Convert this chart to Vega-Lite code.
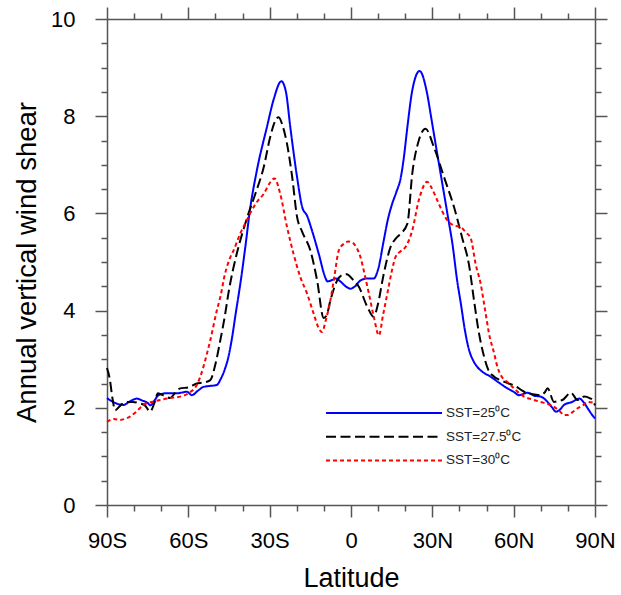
{
"$schema": "https://vega.github.io/schema/vega-lite/v6.json",
"width": 488, "height": 486,
"autosize": {"type": "none"},
"padding": {"left": 107, "top": 19, "right": 26, "bottom": 90},
"config": {"view": {"stroke": null}, "font": "Liberation Sans",
  "axis": {"grid": false, "domainColor": "#555", "tickColor": "#555", "domainWidth": 1.5, "tickWidth": 1.5, "labelColor": "#000", "titleColor": "#000", "titleFontWeight": "normal", "labelFont": "Liberation Sans", "titleFont": "Liberation Sans"}},
"data": {"values": [
{"lat":-90,"v":2.2,"s":"25"},{"lat":-87,"v":2.1,"s":"25"},{"lat":-84,"v":2.06,"s":"25"},{"lat":-81,"v":2.15,"s":"25"},{"lat":-79,"v":2.19,"s":"25"},{"lat":-77,"v":2.15,"s":"25"},{"lat":-75,"v":2.1,"s":"25"},{"lat":-74,"v":2.05,"s":"25"},{"lat":-72.5,"v":2.15,"s":"25"},{"lat":-71,"v":2.26,"s":"25"},{"lat":-68,"v":2.3,"s":"25"},{"lat":-64,"v":2.3,"s":"25"},{"lat":-60.5,"v":2.33,"s":"25"},{"lat":-58.7,"v":2.26,"s":"25"},{"lat":-56.5,"v":2.35,"s":"25"},{"lat":-54.4,"v":2.43,"s":"25"},{"lat":-52,"v":2.45,"s":"25"},{"lat":-49.5,"v":2.47,"s":"25"},{"lat":-48,"v":2.6,"s":"25"},{"lat":-46.5,"v":2.8,"s":"25"},{"lat":-45.2,"v":3.05,"s":"25"},{"lat":-44,"v":3.4,"s":"25"},{"lat":-42.5,"v":3.95,"s":"25"},{"lat":-40.8,"v":4.56,"s":"25"},{"lat":-39,"v":5.3,"s":"25"},{"lat":-37.2,"v":6.1,"s":"25"},{"lat":-34.7,"v":6.89,"s":"25"},{"lat":-31,"v":7.78,"s":"25"},{"lat":-28.5,"v":8.35,"s":"25"},{"lat":-25.7,"v":8.72,"s":"25"},{"lat":-24,"v":8.5,"s":"25"},{"lat":-22.4,"v":7.78,"s":"25"},{"lat":-19.9,"v":6.75,"s":"25"},{"lat":-18,"v":6.13,"s":"25"},{"lat":-16.2,"v":5.95,"s":"25"},{"lat":-14.4,"v":5.65,"s":"25"},{"lat":-11.9,"v":5.17,"s":"25"},{"lat":-9.4,"v":4.67,"s":"25"},{"lat":-8.7,"v":4.6,"s":"25"},{"lat":-7,"v":4.63,"s":"25"},{"lat":-5.7,"v":4.66,"s":"25"},{"lat":-3.9,"v":4.6,"s":"25"},{"lat":-2,"v":4.5,"s":"25"},{"lat":-0.2,"v":4.45,"s":"25"},{"lat":1.5,"v":4.5,"s":"25"},{"lat":3.5,"v":4.62,"s":"25"},{"lat":6,"v":4.66,"s":"25"},{"lat":8.4,"v":4.66,"s":"25"},{"lat":10,"v":4.85,"s":"25"},{"lat":12.1,"v":5.45,"s":"25"},{"lat":13.5,"v":5.85,"s":"25"},{"lat":15.2,"v":6.2,"s":"25"},{"lat":16.8,"v":6.45,"s":"25"},{"lat":18.3,"v":6.72,"s":"25"},{"lat":19.5,"v":7.15,"s":"25"},{"lat":20.8,"v":7.78,"s":"25"},{"lat":22.6,"v":8.53,"s":"25"},{"lat":25.3,"v":8.93,"s":"25"},{"lat":28.1,"v":8.46,"s":"25"},{"lat":29.5,"v":8.0,"s":"25"},{"lat":31.2,"v":7.43,"s":"25"},{"lat":34.3,"v":6.41,"s":"25"},{"lat":36,"v":5.85,"s":"25"},{"lat":37.4,"v":5.38,"s":"25"},{"lat":39.2,"v":4.6,"s":"25"},{"lat":40.5,"v":4.15,"s":"25"},{"lat":42,"v":3.6,"s":"25"},{"lat":43.5,"v":3.2,"s":"25"},{"lat":45,"v":2.98,"s":"25"},{"lat":46.6,"v":2.84,"s":"25"},{"lat":48.5,"v":2.74,"s":"25"},{"lat":51.5,"v":2.64,"s":"25"},{"lat":54.5,"v":2.52,"s":"25"},{"lat":57.7,"v":2.4,"s":"25"},{"lat":60,"v":2.33,"s":"25"},{"lat":62,"v":2.26,"s":"25"},{"lat":65.1,"v":2.31,"s":"25"},{"lat":67.5,"v":2.25,"s":"25"},{"lat":70,"v":2.23,"s":"25"},{"lat":72,"v":2.15,"s":"25"},{"lat":74,"v":2.02,"s":"25"},{"lat":75.6,"v":1.92,"s":"25"},{"lat":77,"v":1.96,"s":"25"},{"lat":78.6,"v":2.06,"s":"25"},{"lat":81.5,"v":2.12,"s":"25"},{"lat":84.2,"v":2.19,"s":"25"},{"lat":86,"v":2.1,"s":"25"},{"lat":87.3,"v":1.99,"s":"25"},{"lat":89,"v":1.85,"s":"25"},{"lat":90,"v":1.78,"s":"25"},
{"lat":-90,"v":2.82,"s":"27.5"},{"lat":-89,"v":2.6,"s":"27.5"},{"lat":-88,"v":2.2,"s":"27.5"},{"lat":-87,"v":1.95,"s":"27.5"},{"lat":-85,"v":2.05,"s":"27.5"},{"lat":-83.3,"v":2.12,"s":"27.5"},{"lat":-80.5,"v":2.12,"s":"27.5"},{"lat":-77.8,"v":2.09,"s":"27.5"},{"lat":-76,"v":2.05,"s":"27.5"},{"lat":-74.1,"v":1.92,"s":"27.5"},{"lat":-72.5,"v":2.1,"s":"27.5"},{"lat":-71.2,"v":2.3,"s":"27.5"},{"lat":-69,"v":2.25,"s":"27.5"},{"lat":-66.7,"v":2.2,"s":"27.5"},{"lat":-65,"v":2.3,"s":"27.5"},{"lat":-63,"v":2.4,"s":"27.5"},{"lat":-60,"v":2.42,"s":"27.5"},{"lat":-56.9,"v":2.5,"s":"27.5"},{"lat":-54.4,"v":2.52,"s":"27.5"},{"lat":-51.9,"v":2.57,"s":"27.5"},{"lat":-50,"v":2.9,"s":"27.5"},{"lat":-48.2,"v":3.39,"s":"27.5"},{"lat":-46.5,"v":3.9,"s":"27.5"},{"lat":-45.2,"v":4.36,"s":"27.5"},{"lat":-42.1,"v":5.18,"s":"27.5"},{"lat":-39.5,"v":5.7,"s":"27.5"},{"lat":-37.8,"v":6.0,"s":"27.5"},{"lat":-35.3,"v":6.4,"s":"27.5"},{"lat":-32.2,"v":6.95,"s":"27.5"},{"lat":-29.8,"v":7.57,"s":"27.5"},{"lat":-28,"v":7.9,"s":"27.5"},{"lat":-26.7,"v":7.98,"s":"27.5"},{"lat":-25.2,"v":7.8,"s":"27.5"},{"lat":-23.6,"v":7.43,"s":"27.5"},{"lat":-21.7,"v":6.75,"s":"27.5"},{"lat":-19.9,"v":5.93,"s":"27.5"},{"lat":-18,"v":5.62,"s":"27.5"},{"lat":-15,"v":5.24,"s":"27.5"},{"lat":-12.5,"v":4.62,"s":"27.5"},{"lat":-10.1,"v":3.85,"s":"27.5"},{"lat":-9,"v":3.9,"s":"27.5"},{"lat":-7.6,"v":4.21,"s":"27.5"},{"lat":-5.1,"v":4.62,"s":"27.5"},{"lat":-3.3,"v":4.73,"s":"27.5"},{"lat":-1.5,"v":4.75,"s":"27.5"},{"lat":0.5,"v":4.65,"s":"27.5"},{"lat":2.9,"v":4.49,"s":"27.5"},{"lat":6,"v":4.08,"s":"27.5"},{"lat":8.4,"v":3.87,"s":"27.5"},{"lat":9.8,"v":4.1,"s":"27.5"},{"lat":12.1,"v":4.76,"s":"27.5"},{"lat":14.6,"v":5.31,"s":"27.5"},{"lat":16.5,"v":5.48,"s":"27.5"},{"lat":18.3,"v":5.58,"s":"27.5"},{"lat":20.8,"v":5.79,"s":"27.5"},{"lat":22.6,"v":6.82,"s":"27.5"},{"lat":25,"v":7.5,"s":"27.5"},{"lat":27.5,"v":7.74,"s":"27.5"},{"lat":30.6,"v":7.36,"s":"27.5"},{"lat":34.3,"v":6.75,"s":"27.5"},{"lat":38,"v":6.13,"s":"27.5"},{"lat":41,"v":5.5,"s":"27.5"},{"lat":43.5,"v":4.95,"s":"27.5"},{"lat":45.4,"v":4.2,"s":"27.5"},{"lat":47,"v":3.6,"s":"27.5"},{"lat":49.1,"v":3.05,"s":"27.5"},{"lat":50.5,"v":2.8,"s":"27.5"},{"lat":52.8,"v":2.64,"s":"27.5"},{"lat":55,"v":2.57,"s":"27.5"},{"lat":57.7,"v":2.51,"s":"27.5"},{"lat":60.5,"v":2.45,"s":"27.5"},{"lat":63.9,"v":2.33,"s":"27.5"},{"lat":67,"v":2.28,"s":"27.5"},{"lat":70,"v":2.26,"s":"27.5"},{"lat":71.5,"v":2.32,"s":"27.5"},{"lat":72.5,"v":2.4,"s":"27.5"},{"lat":74.9,"v":2.12,"s":"27.5"},{"lat":76.5,"v":2.14,"s":"27.5"},{"lat":78,"v":2.16,"s":"27.5"},{"lat":81.1,"v":2.31,"s":"27.5"},{"lat":83.6,"v":2.16,"s":"27.5"},{"lat":86,"v":2.23,"s":"27.5"},{"lat":88,"v":2.2,"s":"27.5"},{"lat":89.1,"v":2.16,"s":"27.5"},{"lat":90,"v":2.05,"s":"27.5"},
{"lat":-90,"v":1.71,"s":"30"},{"lat":-87.5,"v":1.77,"s":"30"},{"lat":-85.2,"v":1.75,"s":"30"},{"lat":-83,"v":1.78,"s":"30"},{"lat":-81.5,"v":1.82,"s":"30"},{"lat":-79,"v":1.93,"s":"30"},{"lat":-76.6,"v":2.06,"s":"30"},{"lat":-73.5,"v":2.12,"s":"30"},{"lat":-70.4,"v":2.16,"s":"30"},{"lat":-67,"v":2.2,"s":"30"},{"lat":-63,"v":2.23,"s":"30"},{"lat":-60,"v":2.3,"s":"30"},{"lat":-56.9,"v":2.47,"s":"30"},{"lat":-55.6,"v":2.64,"s":"30"},{"lat":-53.2,"v":3.1,"s":"30"},{"lat":-51.9,"v":3.39,"s":"30"},{"lat":-49.5,"v":4.0,"s":"30"},{"lat":-48.2,"v":4.28,"s":"30"},{"lat":-46.5,"v":4.75,"s":"30"},{"lat":-44.5,"v":5.1,"s":"30"},{"lat":-43.3,"v":5.24,"s":"30"},{"lat":-40.9,"v":5.58,"s":"30"},{"lat":-38.4,"v":5.86,"s":"30"},{"lat":-37.2,"v":6.0,"s":"30"},{"lat":-34.5,"v":6.25,"s":"30"},{"lat":-32.2,"v":6.4,"s":"30"},{"lat":-30,"v":6.62,"s":"30"},{"lat":-28.2,"v":6.72,"s":"30"},{"lat":-26.1,"v":6.4,"s":"30"},{"lat":-23.6,"v":5.72,"s":"30"},{"lat":-21.2,"v":5.17,"s":"30"},{"lat":-18.7,"v":4.69,"s":"30"},{"lat":-16.2,"v":4.35,"s":"30"},{"lat":-13.8,"v":3.94,"s":"30"},{"lat":-12,"v":3.65,"s":"30"},{"lat":-10.7,"v":3.56,"s":"30"},{"lat":-9.3,"v":3.8,"s":"30"},{"lat":-7.6,"v":4.21,"s":"30"},{"lat":-6,"v":4.75,"s":"30"},{"lat":-4.5,"v":5.24,"s":"30"},{"lat":-2.5,"v":5.38,"s":"30"},{"lat":-1,"v":5.42,"s":"30"},{"lat":0.5,"v":5.4,"s":"30"},{"lat":2,"v":5.3,"s":"30"},{"lat":3.5,"v":5.1,"s":"30"},{"lat":5,"v":4.75,"s":"30"},{"lat":6.6,"v":4.35,"s":"30"},{"lat":8.5,"v":3.85,"s":"30"},{"lat":10.3,"v":3.49,"s":"30"},{"lat":11.8,"v":3.9,"s":"30"},{"lat":13.4,"v":4.35,"s":"30"},{"lat":15,"v":4.8,"s":"30"},{"lat":16.4,"v":5.1,"s":"30"},{"lat":18.5,"v":5.23,"s":"30"},{"lat":20.1,"v":5.31,"s":"30"},{"lat":22.6,"v":5.65,"s":"30"},{"lat":25,"v":6.27,"s":"30"},{"lat":28.1,"v":6.65,"s":"30"},{"lat":29.5,"v":6.55,"s":"30"},{"lat":31.8,"v":6.27,"s":"30"},{"lat":35.5,"v":5.86,"s":"30"},{"lat":38,"v":5.75,"s":"30"},{"lat":40.4,"v":5.72,"s":"30"},{"lat":42.5,"v":5.6,"s":"30"},{"lat":44.1,"v":5.5,"s":"30"},{"lat":46,"v":4.95,"s":"30"},{"lat":47.8,"v":4.56,"s":"30"},{"lat":49.5,"v":4.0,"s":"30"},{"lat":50.9,"v":3.53,"s":"30"},{"lat":52.8,"v":3.12,"s":"30"},{"lat":54,"v":2.84,"s":"30"},{"lat":55.5,"v":2.65,"s":"30"},{"lat":57.7,"v":2.53,"s":"30"},{"lat":60.5,"v":2.38,"s":"30"},{"lat":63.9,"v":2.23,"s":"30"},{"lat":67,"v":2.17,"s":"30"},{"lat":70,"v":2.12,"s":"30"},{"lat":72.5,"v":2.08,"s":"30"},{"lat":74.9,"v":2.02,"s":"30"},{"lat":77,"v":1.93,"s":"30"},{"lat":78.6,"v":1.85,"s":"30"},{"lat":80,"v":1.85,"s":"30"},{"lat":81.5,"v":1.9,"s":"30"},{"lat":83.6,"v":1.99,"s":"30"},{"lat":85.5,"v":2.05,"s":"30"},{"lat":87.3,"v":2.12,"s":"30"},{"lat":90,"v":2.1,"s":"30"}
]},
"layer": [
 {"mark": {"type": "line", "opacity": 0},
  "encoding": {
   "x": {"field": "lat", "type": "quantitative",
     "axis": {"orient": "bottom", "values": [-80,-70,-50,-40,-20,-10,10,20,40,50,70,80], "tickSize": 6, "labels": false, "title": null, "domain": false}},
   "y": {"field": "v", "type": "quantitative",
     "axis": {"orient": "left", "values": [0.5,1,1.5,2.5,3,3.5,4.5,5,5.5,6.5,7,7.5,8.5,9,9.5], "tickSize": 6, "labels": false, "title": null, "domain": false}}
  }},
 {"mark": {"type": "line", "opacity": 0},
  "encoding": {
   "x": {"field": "lat", "type": "quantitative",
     "axis": {"orient": "top", "values": [-80,-70,-50,-40,-20,-10,10,20,40,50,70,80], "tickSize": 6, "labels": false, "title": null, "domain": false}},
   "y": {"field": "v", "type": "quantitative",
     "axis": {"orient": "right", "values": [0.5,1,1.5,2.5,3,3.5,4.5,5,5.5,6.5,7,7.5,8.5,9,9.5], "tickSize": 6, "labels": false, "title": null, "domain": false}}
  }},
 {"mark": {"type": "line", "opacity": 0},
  "encoding": {
   "x": {"field": "lat", "type": "quantitative",
     "axis": {"orient": "top", "values": [-90,-60,-30,0,30,60,90], "tickSize": 12, "labels": false, "title": null}},
   "y": {"field": "v", "type": "quantitative",
     "axis": {"orient": "right", "values": [0,2,4,6,8,10], "tickSize": 12, "labels": false, "title": null}}
  }},
 {"mark": {"type": "line", "interpolate": "monotone", "strokeWidth": 2},
  "encoding": {
   "x": {"field": "lat", "type": "quantitative", "scale": {"domain": [-90, 90], "nice": false, "zero": false},
     "axis": {"orient": "bottom", "values": [-90,-60,-30,0,30,60,90], "tickSize": 12,
       "labelExpr": "datum.value < 0 ? (-datum.value) + 'S' : (datum.value > 0 ? datum.value + 'N' : '0')",
       "labelFontSize": 22, "labelPadding": 13, "labelFlush": false, "labelOverlap": false,
       "title": "Latitude", "titleFontSize": 27, "titlePadding": 14}},
   "y": {"field": "v", "type": "quantitative", "scale": {"domain": [0, 10], "nice": false},
     "axis": {"orient": "left", "values": [0,2,4,6,8,10], "tickSize": 12, "format": "d",
       "labelFontSize": 22, "labelPadding": 20, "labelFlush": false, "labelOverlap": false,
       "title": "Annual vertical wind shear", "titleFontSize": 27.5, "titlePadding": 9}},
   "color": {"field": "s", "type": "nominal", "scale": {"domain": ["25", "27.5", "30"], "range": ["#0000ff", "#000000", "#ff0000"]},
     "legend": {"orient": "none", "legendX": 218, "legendY": 386, "title": null, "symbolType": "stroke", "symbolSize": 13456, "symbolStrokeWidth": 2, "labelFontSize": 13.5, "labelFont": "Liberation Sans", "labelColor": "#222", "clipHeight": 16, "rowPadding": 7.7, "labelOffset": 3, "padding": 0,
       "labelExpr": "'SST=' + datum.label + '⁰C'"}},
   "strokeDash": {"field": "s", "type": "nominal", "scale": {"domain": ["25", "27.5", "30"], "range": [[1, 0], [10, 4.5], [4, 3]]},
     "legend": {"orient": "none", "legendX": 218, "legendY": 386, "title": null, "symbolType": "stroke", "symbolSize": 13456, "symbolStrokeWidth": 2, "labelFontSize": 13.5, "labelFont": "Liberation Sans", "labelColor": "#222", "clipHeight": 16, "rowPadding": 7.7, "labelOffset": 3, "padding": 0,
       "labelExpr": "'SST=' + datum.label + '⁰C'"}}
  }}
],
"resolve": {"axis": {"x": "independent", "y": "independent"}}
}
